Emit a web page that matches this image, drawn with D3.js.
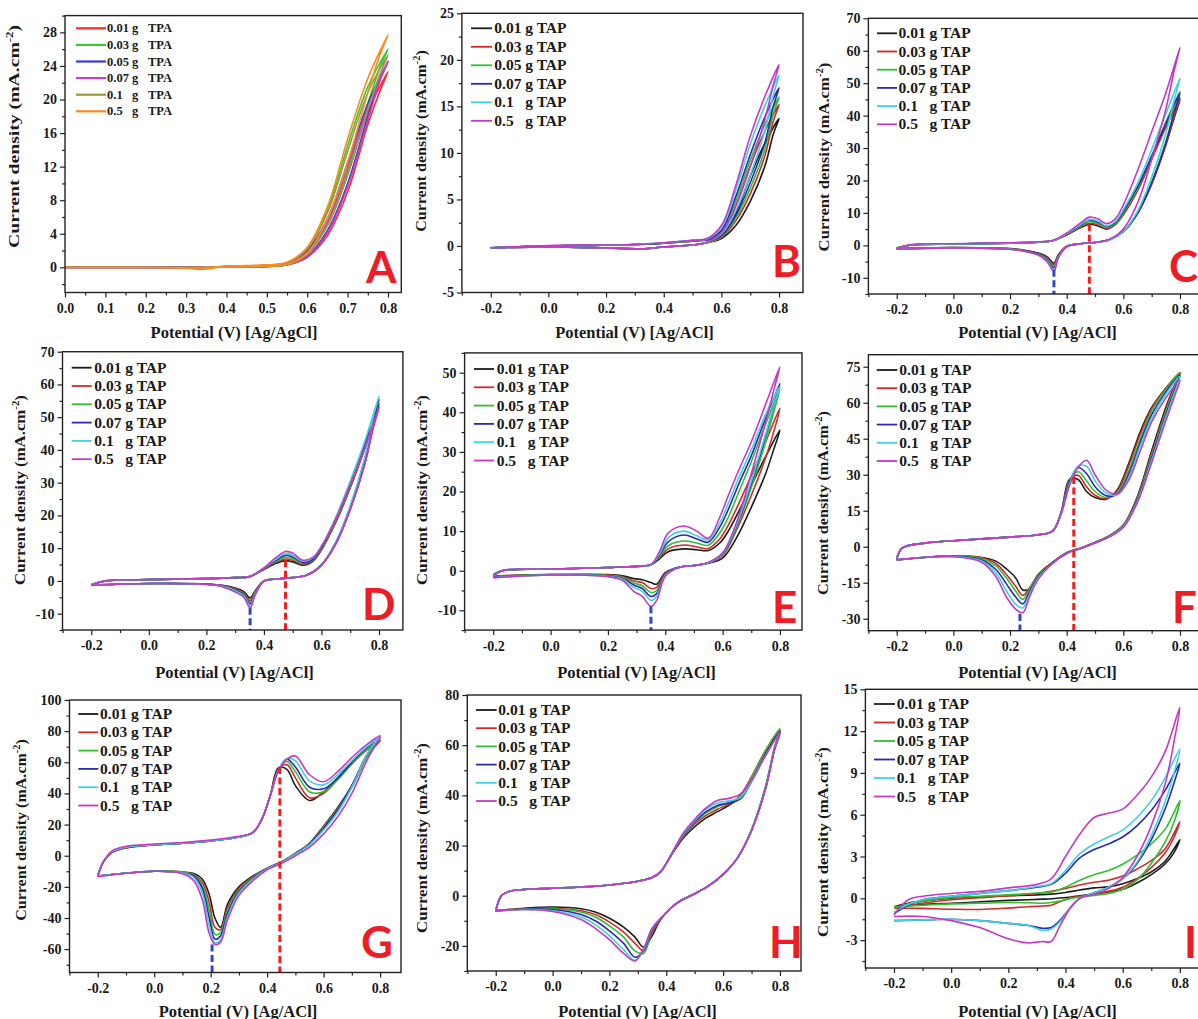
<!DOCTYPE html>
<html><head><meta charset="utf-8">
<script src="https://cdn.jsdelivr.net/npm/d3@7"></script>
<style>body{margin:0;background:#fff}</style>
</head><body>
<svg id="chart" width="1198" height="1019"></svg>
<script>
// ---------------- DATA ----------------
const amountsTPA = ["0.01","0.03","0.05","0.07","0.1","0.5"];
const amountsTAP = ["0.01","0.03","0.05","0.07","0.1","0.5"];
const panelLetters = ["A","B","C","D","E","F","G","H","I"];

const A_xTicks = [0,0.1,0.2,0.3,0.4,0.5,0.6,0.7,0.8];
const A_yTicks = [0,4,8,12,16,20,24,28];
const xTicksTAP = [-0.2,0,0.2,0.4,0.6,0.8];
const B_yTicks = [-5,0,5,10,15,20,25];
const C_yTicks = [-10,0,10,20,30,40,50,60,70];
const D_yTicks = [-10,0,10,20,30,40,50,60,70];
const E_yTicks = [-10,0,10,20,30,40,50];
const F_yTicks = [-30,-15,0,15,30,45,60,75];
const G_yTicks = [-60,-40,-20,0,20,40,60,80,100];
const H_yTicks = [-20,0,20,40,60,80];
const I_yTicks = [-3,0,3,6,9,12,15];

// Panel A
const A_fwdE = [0,0.1,0.2,0.3,0.34,0.4,0.5,0.55,0.6,0.65,0.7,0.75,0.8];
const A_revE = [0.78,0.75,0.7,0.65,0.6,0.55,0.5,0.4,0.3,0.2,0.1,0];
const A_fwdJ = [
 [0,0,0,-0.05,0,0.1,0.25,0.5,1.8,5.0,11.0,18.5,23.3],
 [0,0,0,-0.05,0,0.1,0.25,0.5,2.2,6.8,14.5,21.5,26.0],
 [0,0,0,-0.05,0,0.1,0.25,0.5,2.0,5.8,12.5,19.5,24.5],
 [0,0,0,-0.1,-0.05,0.1,0.25,0.45,1.8,5.4,12.0,19.0,24.6],
 [0,0,0,-0.05,0,0.1,0.25,0.5,2.2,6.5,13.8,20.8,25.3],
 [0,0,0,-0.1,-0.25,0.1,0.3,0.6,2.4,7.2,15.3,22.5,27.7]];
const A_revJ = [
 [21.0,17.0,9.0,3.8,1.2,0.3,0.1,0.05,0,0,0,0],
 [23.8,19.5,11.5,5.2,1.5,0.3,0.1,0.05,0,0,0,0],
 [22.3,18.0,10.0,4.4,1.3,0.3,0.1,0.05,0,0,0,0],
 [22.2,17.5,9.6,4.1,1.2,0.3,0.1,0.05,0,0,0,0],
 [23.0,18.8,11.0,5.0,1.5,0.3,0.1,0.05,0,0,0,0],
 [25.3,20.8,12.5,5.8,1.7,0.35,0.15,0.05,-0.05,0,0,0]];

// Panel B
const B_fwdE = [-0.2,0,0.2,0.3,0.4,0.5,0.55,0.6,0.65,0.7,0.75,0.8];
const B_revE = [0.78,0.75,0.7,0.65,0.6,0.55,0.5,0.4,0.33,0.2,0,-0.2];
const B_fwdJ = [
 [-0.2,0.0,0.1,0.15,0.3,0.5,0.65,1.0,3.5,7.5,11.0,13.7],
 [-0.2,0.0,0.1,0.15,0.3,0.55,0.7,1.3,4.3,8.6,12.3,15.2],
 [-0.2,0.0,0.1,0.15,0.3,0.55,0.7,1.5,4.8,9.2,13.0,16.0],
 [-0.2,0.0,0.1,0.15,0.3,0.6,0.7,1.7,5.3,9.8,13.8,17.0],
 [-0.2,0.0,0.1,0.15,0.35,0.6,0.75,2.0,6.0,10.9,15.0,18.4],
 [-0.2,0.05,0.1,0.15,0.35,0.6,0.8,2.2,6.5,11.8,16.0,19.5]];
const B_revJ = [
 [12.0,8.5,4.8,2.2,0.8,0.35,0.1,-0.1,-0.3,-0.2,-0.1,-0.2],
 [13.4,9.6,5.6,2.7,0.9,0.35,0.1,-0.1,-0.3,-0.2,-0.1,-0.2],
 [14.2,10.3,6.2,3.0,1.0,0.35,0.1,-0.1,-0.3,-0.2,-0.1,-0.2],
 [15.0,11.0,6.8,3.3,1.1,0.4,0.1,-0.1,-0.3,-0.2,-0.1,-0.2],
 [16.2,12.3,7.6,3.8,1.3,0.4,0.1,-0.1,-0.3,-0.2,-0.1,-0.2],
 [17.3,13.5,8.5,4.3,1.4,0.4,0.1,-0.1,-0.3,-0.2,-0.1,-0.2]];

// Panel C
const C_fwdE = [-0.2,-0.15,0,0.2,0.3,0.35,0.4,0.45,0.48,0.51,0.54,0.57,0.6,0.65,0.7,0.75,0.8];
const C_revE = [0.78,0.75,0.7,0.65,0.6,0.55,0.5,0.45,0.4,0.37,0.355,0.33,0.3,0.25,0.2,0,-0.2];
const C_fwdJ = [
 [-0.8,0.1,0.4,0.7,1.0,1.4,3.2,5.5,6.5,6.0,5.0,6.3,9.5,17.0,27.0,36.5,45.0],
 [-0.8,0.1,0.4,0.7,1.0,1.4,3.3,5.7,6.8,6.3,5.2,6.3,9.5,16.8,26.5,36.5,45.5],
 [-0.8,0.1,0.4,0.7,1.0,1.4,3.4,6.0,7.3,6.8,5.5,6.6,10.0,17.5,27.5,38.0,47.5],
 [-0.9,0.1,0.4,0.7,1.0,1.4,3.5,6.3,7.8,7.2,5.8,6.9,10.5,18.0,27.5,37.5,47.0],
 [-1.0,0.1,0.4,0.7,1.0,1.4,3.6,6.5,8.0,7.5,6.0,7.2,11.0,19.0,29.5,40.5,51.5],
 [-1.1,0.2,0.5,0.8,1.1,1.5,3.8,7.0,8.7,8.2,6.7,8.0,12.5,23.0,35.0,47.0,61.0]];
const C_revJ = [
 [39.5,31.0,19.0,10.0,4.3,1.7,0.9,0.5,-0.3,-3.0,-5.5,-3.5,-2.4,-1.5,-1.0,-0.7,-1.0],
 [40.0,31.0,18.8,9.8,4.2,1.7,0.9,0.5,-0.3,-3.2,-6.0,-3.8,-2.6,-1.6,-1.1,-0.7,-1.0],
 [41.5,32.0,19.5,10.0,4.2,1.7,0.9,0.5,-0.3,-3.4,-6.5,-4.1,-2.7,-1.7,-1.1,-0.7,-1.0],
 [41.0,31.5,19.2,9.8,4.2,1.7,0.9,0.5,-0.4,-3.6,-7.0,-4.4,-2.8,-1.7,-1.2,-0.8,-1.1],
 [45.0,34.5,21.0,10.5,4.2,1.6,0.9,0.5,-0.4,-3.8,-7.5,-4.7,-3.0,-1.8,-1.2,-0.8,-1.1],
 [54.0,42.0,26.5,13.0,5.0,1.8,0.9,0.5,-0.5,-4.0,-8.0,-5.0,-3.0,-1.8,-1.2,-0.8,-1.2]];

// Panel D
const D_fwdE = [-0.2,-0.15,0,0.2,0.3,0.35,0.4,0.44,0.475,0.5,0.535,0.57,0.6,0.65,0.7,0.75,0.8];
const D_revE = [0.78,0.75,0.7,0.65,0.6,0.55,0.5,0.45,0.4,0.37,0.352,0.33,0.3,0.25,0.2,0,-0.2];
const D_fwdJ = [
 [-1.2,0.0,0.4,0.7,1.0,1.3,3.5,5.3,6.2,5.8,4.8,6.0,9.5,18.0,28.5,40.5,54.0],
 [-1.2,0.0,0.4,0.7,1.0,1.3,3.6,5.6,6.7,6.3,5.1,6.2,9.6,18.0,28.5,40.3,53.0],
 [-1.2,0.0,0.4,0.7,1.0,1.3,3.7,5.9,7.2,6.8,5.3,6.4,9.9,18.5,29.0,41.0,55.0],
 [-1.2,0.0,0.4,0.7,1.0,1.3,3.8,6.2,7.8,7.3,5.6,6.6,10.2,19.0,29.5,41.5,55.5],
 [-1.2,0.0,0.4,0.7,1.0,1.3,3.9,6.5,8.3,7.8,6.0,7.0,10.6,19.5,30.5,42.5,56.5],
 [-1.3,0.0,0.4,0.7,1.0,1.3,4.0,7.0,9.0,8.5,6.3,7.2,10.5,19.0,29.5,40.5,53.0]];
const D_revJ = [
 [47.5,36.0,22.0,11.5,4.8,1.8,1.0,0.6,0.0,-3.0,-5.2,-3.3,-2.2,-1.3,-1.0,-0.8,-1.3],
 [46.8,35.5,21.8,11.3,4.8,1.8,1.0,0.6,0.0,-3.3,-6.0,-3.7,-2.4,-1.4,-1.0,-0.8,-1.3],
 [48.5,36.5,22.3,11.6,4.9,1.8,1.0,0.6,0.0,-3.5,-6.5,-4.0,-2.6,-1.4,-1.0,-0.8,-1.3],
 [49.0,37.0,22.5,11.7,4.9,1.8,1.0,0.6,-0.1,-3.8,-7.0,-4.3,-2.8,-1.5,-1.0,-0.8,-1.3],
 [50.0,37.5,23.0,12.0,5.0,1.8,1.0,0.6,-0.1,-4.0,-7.5,-4.6,-3.0,-1.5,-1.1,-0.8,-1.3],
 [47.0,35.5,22.0,11.5,4.8,1.8,1.0,0.6,-0.1,-4.3,-8.2,-5.0,-3.4,-1.6,-1.1,-0.8,-1.4]];

// Panel E
const E_fwdE = [-0.2,-0.17,0,0.2,0.3,0.35,0.38,0.41,0.465,0.51,0.55,0.59,0.62,0.66,0.7,0.75,0.8];
const E_revE = [0.78,0.75,0.7,0.65,0.6,0.55,0.5,0.45,0.4,0.37,0.35,0.32,0.29,0.25,0.2,0,-0.2];
const E_fwdJ = [
 [-1.0,0.0,0.4,0.8,1.1,1.5,3.0,4.8,5.5,5.3,5.1,7.0,10.0,15.5,21.5,28.8,35.5],
 [-1.1,0.0,0.4,0.8,1.1,1.5,3.3,5.5,6.5,6.0,5.6,8.0,11.5,17.5,24.0,32.5,41.0],
 [-1.2,0.0,0.4,0.8,1.1,1.5,3.6,6.3,7.5,7.0,6.4,9.5,13.5,20.5,27.5,37.0,46.0],
 [-1.3,0.0,0.4,0.8,1.1,1.5,3.9,7.3,9.0,8.0,7.2,11.0,15.5,22.5,29.0,38.5,47.3],
 [-1.4,0.0,0.4,0.8,1.1,1.5,4.2,8.3,10.0,8.8,7.8,12.0,17.0,24.0,30.5,39.5,46.5],
 [-1.6,0.0,0.4,0.8,1.1,1.6,4.8,9.5,11.3,10.0,8.2,13.5,19.0,26.0,32.5,42.0,51.5]];
const E_revJ = [
 [31.0,24.5,16.0,8.5,3.2,1.9,1.3,0.9,-0.5,-3.4,-3.0,-2.3,-2.0,-1.3,-1.0,-1.0,-1.3],
 [35.5,28.5,19.0,10.5,3.8,2.0,1.3,0.9,-0.7,-4.2,-4.5,-3.0,-2.6,-1.5,-1.1,-1.0,-1.4],
 [40.5,32.5,21.0,11.0,4.0,2.0,1.3,0.9,-0.9,-5.0,-5.5,-3.8,-3.1,-1.7,-1.2,-1.0,-1.5],
 [42.0,34.0,22.0,11.5,4.2,2.0,1.3,0.9,-1.0,-5.8,-6.5,-4.5,-3.6,-1.9,-1.3,-1.1,-1.6],
 [42.0,34.5,22.5,11.8,4.3,2.0,1.3,0.9,-1.2,-6.5,-7.5,-5.2,-4.2,-2.1,-1.4,-1.1,-1.7],
 [46.0,37.5,24.5,12.5,4.5,2.1,1.3,0.9,-1.4,-7.5,-9.0,-6.5,-5.2,-2.4,-1.5,-1.1,-1.8]];

// Panel F
const F_fwdE = [-0.2,-0.18,-0.1,0,0.2,0.3,0.35,0.38,0.41,0.44,0.47,0.5,0.54,0.58,0.62,0.66,0.7,0.75,0.8];
const F_revE = [0.78,0.75,0.7,0.65,0.6,0.55,0.5,0.45,0.4,0.35,0.3,0.27,0.245,0.22,0.19,0.15,0.1,0,-0.2];
const F_fwdJ = [
 [-5.0,-0.5,1.5,2.5,4.0,5.0,6.5,14.0,28.0,28.0,23.0,20.5,19.8,24.0,35.0,48.0,58.0,66.0,72.5],
 [-5.0,-0.5,1.5,2.5,4.0,5.0,6.5,14.0,27.5,29.8,25.0,21.5,20.0,23.5,34.0,47.0,57.5,66.0,72.5],
 [-5.0,-0.5,1.5,2.5,4.0,5.0,6.5,14.0,27.5,31.2,27.5,23.0,20.5,22.5,32.0,45.0,56.5,65.5,72.5],
 [-5.0,-0.5,1.5,2.5,4.0,5.0,6.5,14.0,27.0,33.0,30.5,25.0,21.2,22.0,30.5,43.5,55.0,64.5,71.5],
 [-5.0,-0.5,1.5,2.5,4.0,5.0,6.5,13.5,26.0,33.5,33.5,27.5,22.3,21.8,29.0,42.0,53.5,63.5,71.0],
 [-5.5,-0.5,1.5,2.5,4.0,5.0,6.5,13.5,25.5,33.0,36.0,30.0,23.5,22.0,28.0,40.0,52.0,62.0,69.5]];
const F_revJ = [
 [67.0,58.0,40.0,21.0,9.0,4.5,1.8,-0.5,-2.5,-6.5,-11.5,-17.5,-18.0,-13.0,-9.5,-6.0,-4.5,-3.8,-5.5],
 [67.0,57.0,39.0,20.5,9.0,4.5,1.8,-0.5,-2.5,-6.5,-11.5,-17.0,-20.3,-16.5,-12.0,-7.0,-4.6,-3.8,-5.5],
 [66.0,56.0,38.0,20.0,8.8,4.4,1.7,-0.6,-2.6,-6.7,-12.0,-17.5,-22.0,-18.5,-13.5,-8.0,-5.0,-3.9,-5.5],
 [65.0,55.0,37.0,19.5,8.5,4.3,1.6,-0.7,-2.7,-6.8,-12.5,-18.5,-23.8,-21.0,-16.0,-9.5,-5.5,-4.0,-5.5],
 [64.0,54.0,36.0,19.0,8.3,4.2,1.5,-0.8,-2.8,-7.0,-13.0,-19.5,-25.5,-24.0,-19.0,-11.0,-6.0,-4.1,-5.5],
 [62.5,52.5,35.0,18.5,8.0,4.0,1.5,-0.8,-2.8,-7.0,-13.5,-20.5,-27.5,-26.0,-21.5,-12.5,-6.5,-4.2,-5.5]];

// Panel G
const G_fwdE = [-0.2,-0.18,-0.15,-0.1,0,0.1,0.2,0.3,0.35,0.38,0.41,0.44,0.47,0.5,0.55,0.6,0.65,0.7,0.75,0.8];
const G_revE = [0.78,0.75,0.7,0.65,0.6,0.55,0.5,0.45,0.4,0.35,0.3,0.26,0.235,0.215,0.195,0.17,0.14,0.1,0,-0.2];
const G_fwdJ = [
 [-13,-4,2,5,7,8,9.5,12,15,23,38,56.5,55.5,45,35.5,41,50,60,68,74],
 [-13,-4,2,5,7,8,9.5,12,15,23,38,55.5,58.5,50,37.2,40,49,59,67.5,74],
 [-13,-4,2.5,5.5,7,8,9.5,12,15,23,38,55,60.5,54,41,41,49,59,68,75],
 [-13,-4,2.5,5.5,7,8,9.5,12,15,23,38,55,62,57,44,43,50,60,69,76],
 [-13,-4,2.5,5.5,7,8,9.5,12,15,23,38,55,62.5,61,48,45.5,52,61,69.5,76],
 [-13.5,-4,3,6,7.5,8.5,10,12.5,15,23,38,54.5,62,64,52,47.5,54,63,71,77]];
const G_revJ = [
 [70,63,45,31,19,8,1.5,-4,-8,-13,-20,-31,-46,-40,-25,-15,-11.5,-10.5,-10,-13],
 [70,62.5,44,30.5,18.5,8,1.5,-4,-8,-13.5,-21,-33,-47.5,-46,-30,-17,-12,-10.5,-10,-13],
 [71,63,44,30,18,7.5,1.3,-4.2,-8.2,-14,-22,-35,-49.5,-50.5,-35,-19,-12.5,-10.5,-10,-13],
 [72,64,45,29.5,17.5,7.3,1.2,-4.3,-8.3,-14.5,-23,-37,-51.5,-53.5,-40,-21,-13,-11,-10,-13],
 [72,64,44,28,16.5,7,1,-4.5,-8.5,-15,-24,-39,-54,-56,-45,-24,-14,-11,-10,-13],
 [70,60,40,25,14,5.5,0,-5,-9,-16,-25.5,-41,-55.5,-57,-50,-28,-16,-11.5,-10,-13.5]];

// Panel H
const H_fwdE = [-0.2,-0.18,-0.15,-0.1,0,0.1,0.2,0.3,0.35,0.38,0.42,0.46,0.5,0.54,0.58,0.62,0.66,0.7,0.75,0.8];
const H_revE = [0.78,0.75,0.7,0.65,0.6,0.55,0.5,0.45,0.42,0.38,0.35,0.32,0.29,0.25,0.2,0.15,0.1,0,-0.1,-0.2];
const H_fwdJ = [
 [-6,0,1.8,2.5,3.0,3.5,4.3,5.8,7.3,9.5,16.5,23,27.5,31,33.5,36,39.5,47,57.5,65],
 [-6,0,1.8,2.5,3.0,3.5,4.3,5.8,7.3,9.5,16.7,23.5,28.5,32,34.5,36.5,40,47.5,58,66],
 [-6,0,1.8,2.5,3.0,3.5,4.3,5.8,7.3,9.5,16.8,24,29,33,35.5,37,39.5,47,58,66.5],
 [-6,0,1.8,2.5,3.0,3.5,4.3,5.8,7.3,9.5,16.9,24.3,29.5,33.5,36,37,38.5,45.5,56.5,65.5],
 [-6,0,1.8,2.5,3.0,3.5,4.3,5.8,7.3,9.5,17,24.6,30,34.5,37,37.8,39,45.5,56,65],
 [-6.5,0,1.8,2.5,3.0,3.5,4.3,5.8,7.3,9.5,17,25,30.5,35,38,38.8,40.5,46,56,65]];
const H_revJ = [
 [58,43,26,15,8.5,4,0.8,-2,-4.5,-9.5,-16,-20.5,-16.5,-12.5,-9,-6.5,-5.2,-4.5,-5,-6],
 [58.5,43.5,26,15,8.5,4,0.8,-2,-4.5,-9.5,-15,-22,-19,-14.5,-10.5,-7.5,-6,-5,-5.2,-6],
 [59,44,26.5,15,8.5,4,0.8,-2,-4.5,-9.3,-14,-23,-22,-16.5,-12,-8.5,-6.5,-5.2,-5.3,-6],
 [58,43,26,15,8.5,4,0.8,-2,-4.5,-9.2,-13.5,-22,-24.5,-19,-14,-10,-7.5,-5.5,-5.4,-6],
 [58,43,26,15,8.5,4,0.8,-2,-4.5,-9,-13,-21.5,-25.8,-21.5,-16,-11.5,-8.5,-6,-5.5,-6],
 [58,43,26,15,8.5,4,0.8,-2,-4.5,-9,-13,-21,-26,-23,-17.5,-13,-9.5,-6.3,-5.5,-6]];

// Panel I
const I_fwdE = [-0.2,-0.15,-0.1,0,0.1,0.2,0.3,0.35,0.4,0.45,0.5,0.55,0.6,0.65,0.7,0.75,0.8];
const I_revE = [0.78,0.75,0.7,0.65,0.6,0.55,0.5,0.45,0.42,0.38,0.35,0.32,0.27,0.2,0.1,0,-0.1,-0.2];
const I_fwdJ = [
 [-0.6,-0.35,-0.2,0.0,0.1,0.18,0.25,0.3,0.42,0.6,0.75,0.82,1.05,1.4,1.9,2.7,4.2],
 [-0.7,-0.5,-0.35,-0.1,0.05,0.18,0.35,0.5,0.7,0.95,1.15,1.3,1.6,2.1,2.7,3.6,5.5],
 [-0.7,-0.4,-0.2,0.05,0.15,0.25,0.38,0.45,0.8,1.3,1.7,2.0,2.45,3.1,3.9,5.0,7.0],
 [-1.1,-0.5,-0.1,0.15,0.35,0.55,0.8,1.0,1.8,2.9,3.5,3.9,4.4,5.2,6.3,7.8,9.7],
 [-1.0,-0.45,-0.1,0.15,0.35,0.55,0.85,1.05,2.0,3.2,3.9,4.4,4.9,5.8,7.0,8.7,10.7],
 [-1.2,-0.1,0.15,0.35,0.5,0.75,1.0,1.4,3.0,4.6,5.8,6.1,6.4,7.4,8.7,10.6,13.7]];
const I_revJ = [
 [3.3,2.5,1.7,1.1,0.65,0.45,0.3,0.18,0.1,0.02,-0.03,-0.06,-0.1,-0.15,-0.25,-0.35,-0.45,-0.6],
 [4.4,3.3,2.2,1.4,0.8,0.5,0.3,0.15,0.05,-0.25,-0.5,-0.55,-0.6,-0.7,-0.8,-0.78,-0.72,-0.7],
 [5.5,4.1,2.5,1.3,0.65,0.35,0.2,0.1,0.0,-0.2,-0.3,-0.35,-0.32,-0.3,-0.35,-0.4,-0.5,-0.6],
 [8.3,6.5,4.2,2.5,1.4,0.8,0.4,0.0,-0.6,-1.6,-2.1,-2.15,-1.95,-1.8,-1.6,-1.5,-1.55,-1.6],
 [9.0,7.0,4.5,2.6,1.4,0.8,0.4,0.0,-0.6,-1.7,-2.2,-2.3,-1.95,-1.8,-1.6,-1.5,-1.55,-1.6],
 [11.3,8.3,5.2,3.0,1.5,0.7,0.3,0.0,-0.6,-2.0,-3.1,-3.1,-3.2,-2.9,-2.1,-1.6,-1.3,-1.3]];

// Peak-position markers (dashed guides)
const markerPanel = ["C","C","D","D","E","F","F","G","G"];
const markerE     = [0.355,0.48,0.352,0.475,0.35,0.235,0.425,0.205,0.445];
const markerJ     = [-7.5,6.5,-8.2,6.3,-9,-28,29,-57,57];
const markerType  = ["cathodic","anodic","cathodic","anodic","cathodic","cathodic","anodic","cathodic","anodic"];

// ---------------- STYLE / LAYOUT ----------------
const colorsTPA = ["#ff2b2b","#35c935","#3a3ad8","#c73ec7","#9a9a38","#ff8a1c"];
const colorsTAP = ["#1c1c1c","#d12a2a","#2fbf2f","#2a2aae","#3fd2dd","#c639c6"];
const markerColor = {cathodic:"#3346c4", anodic:"#f01e1e"};
const SERIF = "'Liberation Serif','Times New Roman',serif";

const data = {
 A:{fE:A_fwdE,rE:A_revE,fJ:A_fwdJ,rJ:A_revJ,xt:A_xTicks,yt:A_yTicks},
 B:{fE:B_fwdE,rE:B_revE,fJ:B_fwdJ,rJ:B_revJ,xt:xTicksTAP,yt:B_yTicks},
 C:{fE:C_fwdE,rE:C_revE,fJ:C_fwdJ,rJ:C_revJ,xt:xTicksTAP,yt:C_yTicks},
 D:{fE:D_fwdE,rE:D_revE,fJ:D_fwdJ,rJ:D_revJ,xt:xTicksTAP,yt:D_yTicks},
 E:{fE:E_fwdE,rE:E_revE,fJ:E_fwdJ,rJ:E_revJ,xt:xTicksTAP,yt:E_yTicks},
 F:{fE:F_fwdE,rE:F_revE,fJ:F_fwdJ,rJ:F_revJ,xt:xTicksTAP,yt:F_yTicks},
 G:{fE:G_fwdE,rE:G_revE,fJ:G_fwdJ,rJ:G_revJ,xt:xTicksTAP,yt:G_yTicks},
 H:{fE:H_fwdE,rE:H_revE,fJ:H_fwdJ,rJ:H_revJ,xt:xTicksTAP,yt:H_yTicks},
 I:{fE:I_fwdE,rE:I_revE,fJ:I_fwdJ,rJ:I_revJ,xt:xTicksTAP,yt:I_yTicks}
};

const layout = {
 A:{x0:65,x1:401.3,xd:[0,0.833],y0:15.6,y1:292.5,yd:[-3,30],xMinor:0.05,yMinor:2,
    ylab:[19,136.5,223],xlab:[234,338],leg:[76,106,107,28.3,16.6],legFont:12.5,let:[366,283]},
 B:{x0:461.9,x1:803,xd:[-0.3,0.883],y0:13.3,y1:292.5,yd:[-5,25],xMinor:0.1,yMinor:2.5,
    ylab:[426,141,182],xlab:[634.5,338],leg:[471,492,494.3,28.3,18.5],legFont:15.5,let:[772,277]},
 C:{x0:868.4,x1:1203.5,xd:[-0.3,0.883],y0:18.3,y1:294,yd:[-15,70],xMinor:0.1,yMinor:5,
    ylab:[829,157,189],xlab:[1037.5,338],leg:[877,897,898.5,33.3,18.2],legFont:15.5,let:[1169,282]},
 D:{x0:62.5,x1:402.9,xd:[-0.3,0.883],y0:351.7,y1:630,yd:[-15,70],xMinor:0.1,yMinor:5,
    ylab:[25,490,190],xlab:[234.5,678],leg:[71.7,91.7,94.3,367.7,18.3],legFont:15.5,let:[362,620]},
 E:{x0:464.6,x1:802,xd:[-0.3,0.877],y0:352.9,y1:630.1,yd:[-15,55],xMinor:0.1,yMinor:5,
    ylab:[427,490,190],xlab:[636.5,678],leg:[474,494,496.7,369,18.3],legFont:15.5,let:[772,623]},
 F:{x0:868.4,x1:1203.5,xd:[-0.3,0.883],y0:354.7,y1:630.7,yd:[-35,80],xMinor:0.1,yMinor:7.5,
    ylab:[828,503,184],xlab:[1037.5,678],leg:[876.7,897.3,899.3,370,18.2],legFont:15.5,let:[1172,623]},
 G:{x0:69.5,x1:401,xd:[-0.3,0.874],y0:700,y1:972.5,yd:[-75,100],xMinor:0.1,yMinor:10,
    ylab:[26,830,182],xlab:[238,1016.5],leg:[78.3,98.3,100,714,18.3],legFont:15.5,let:[361,958]},
 H:{x0:467.3,x1:801,xd:[-0.3,0.874],y0:695,y1:971,yd:[-30,80],xMinor:0.1,yMinor:10,
    ylab:[427,838,190],xlab:[637.5,1016.5],leg:[476,496.7,498.3,710,18.2],legFont:15.5,let:[769,958]},
 I:{x0:865.4,x1:1203,xd:[-0.3,0.881],y0:689.3,y1:968,yd:[-5,15],xMinor:0.1,yMinor:1.5,
    ylab:[828,842,190],xlab:[1037.5,1016.5],leg:[874,895,896.7,704,18.5],legFont:15.5,let:[1184,958]}
};

// ---------------- DRAW ----------------
const svg = d3.select("#chart");
svg.append("rect").attr("width",1198).attr("height",1019).attr("fill","#fff");
const defs = svg.append("defs");

function minorTicks(domain, step, majors){
  const out=[];
  const start = Math.ceil((domain[0]-1e-9)/step)*step;
  for(let v=start; v<=domain[1]+1e-9; v+=step){
    const r = Math.round(v*1000)/1000;
    if(!majors.some(m=>Math.abs(m-r)<1e-6)) out.push(r);
  }
  return out;
}

panelLetters.forEach(id=>{
  const L = layout[id], D = data[id];
  const isA = id==="A";
  const colors = isA ? colorsTPA : colorsTAP;
  const amounts = isA ? amountsTPA : amountsTAP;
  const x = d3.scaleLinear().domain(L.xd).range([L.x0,L.x1]);
  const y = d3.scaleLinear().domain(L.yd).range([L.y1,L.y0]);
  const g = svg.append("g");

  defs.append("clipPath").attr("id","clip"+id).append("rect")
    .attr("x",L.x0).attr("y",L.y0).attr("width",L.x1-L.x0).attr("height",L.y1-L.y0);

  const line = d3.line().x(d=>x(d[0])).y(d=>y(d[1])).curve(d3.curveCatmullRom.alpha(0.5));
  const curves = g.append("g").attr("clip-path",`url(#clip${id})`);
  D.fJ.forEach((fj,i)=>{
    const pts = D.fE.map((e,k)=>[e,fj[k]]).concat(D.rE.map((e,k)=>[e,D.rJ[i][k]]));
    curves.append("path").attr("d",line(pts)).attr("fill","none")
      .attr("stroke",colors[i]).attr("stroke-width",1.6).attr("stroke-linejoin","round");
  });

  markerPanel.forEach((p,k)=>{
    if(p!==id) return;
    g.append("line").attr("x1",x(markerE[k])).attr("x2",x(markerE[k]))
      .attr("y1",y(markerJ[k])).attr("y2",y(L.yd[0]))
      .attr("stroke",markerColor[markerType[k]]).attr("stroke-width",3)
      .attr("stroke-dasharray","7,3.5");
  });

  g.append("rect").attr("x",L.x0).attr("y",L.y0).attr("width",L.x1-L.x0).attr("height",L.y1-L.y0)
    .attr("fill","none").attr("stroke","#222").attr("stroke-width",1.4);

  const styleAxis = sel=>{
    sel.select(".domain").remove();
    sel.attr("font-family",SERIF).attr("font-size",14).attr("font-weight","bold");
    sel.selectAll("line").attr("stroke","#222").attr("stroke-width",1.2);
    sel.selectAll("text").attr("fill","#1a1a1a");
  };
  const gx = g.append("g").attr("transform",`translate(0,${L.y1})`)
    .call(d3.axisBottom(x).tickValues(D.xt).tickSize(5).tickPadding(5.5).tickFormat(d=>d.toFixed(1)));
  styleAxis(gx);
  const gxm = g.append("g").attr("transform",`translate(0,${L.y1})`)
    .call(d3.axisBottom(x).tickValues(minorTicks(L.xd,L.xMinor,D.xt)).tickSize(3).tickFormat(""));
  styleAxis(gxm);
  const gy = g.append("g").attr("transform",`translate(${L.x0},0)`)
    .call(d3.axisLeft(y).tickValues(D.yt).tickSize(5).tickPadding(3).tickFormat(d=>String(d)));
  styleAxis(gy);
  const gym = g.append("g").attr("transform",`translate(${L.x0},0)`)
    .call(d3.axisLeft(y).tickValues(minorTicks(L.yd,L.yMinor,D.yt)).tickSize(3).tickFormat(""));
  styleAxis(gym);

  g.append("text").attr("x",L.xlab[0]).attr("y",L.xlab[1]).attr("text-anchor","middle")
    .attr("font-family",SERIF).attr("font-weight","bold").attr("font-size",16.5).attr("fill","#1a1a1a")
    .text(isA ? "Potential (V) [Ag/AgCl]" : "Potential (V) [Ag/ACl]");

  const yl = g.append("text").attr("text-anchor","middle")
    .attr("font-family",SERIF).attr("font-weight","bold").attr("font-size",15.5).attr("fill","#1a1a1a");
  yl.append("tspan").text("Current density (mA.cm");
  yl.append("tspan").attr("dy",-6).attr("font-size",10).text("-2");
  yl.append("tspan").attr("dy",6).text(")");
  const w = yl.node().getBBox().width;
  yl.attr("transform",`translate(${L.ylab[0]},${L.ylab[1]}) rotate(-90) scale(${L.ylab[2]/w},1)`);

  const [lx0,lx1,tx,ry0,dr] = L.leg;
  amounts.forEach((a,i)=>{
    const cy = ry0 + i*dr;
    g.append("line").attr("x1",lx0).attr("x2",lx1).attr("y1",cy).attr("y2",cy)
      .attr("stroke",colors[i]).attr("stroke-width",isA?2.2:1.8);
    const fs = L.legFont;
    const t = (xx,s)=>g.append("text").attr("x",xx).attr("y",cy+fs*0.33)
      .attr("font-family",SERIF).attr("font-weight","bold").attr("font-size",fs).attr("fill","#1a1a1a").text(s);
    t(tx,a);
    if(isA){ t(tx+25,"g"); t(tx+41,"TPA"); }
    else { t(tx+2.0*fs,"g TAP"); }
  });

  g.append("text").attr("x",L.let[0]).attr("y",L.let[1])
    .attr("font-family","Lato,'Open Sans',sans-serif").attr("font-weight","bold").attr("font-size",44)
    .attr("fill","#ee1d25").text(id);
});
</script>
</body></html>
